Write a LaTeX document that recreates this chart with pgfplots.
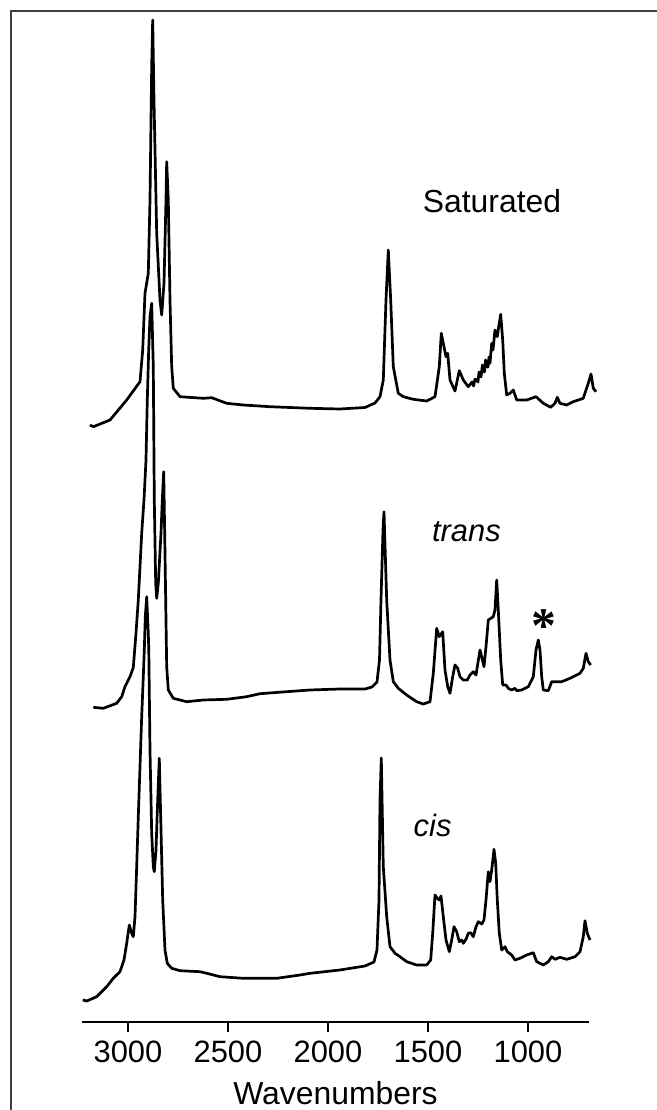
\documentclass[border=0pt]{standalone}
\usepackage{pgfplots}
\pgfplotsset{compat=1.18}
\usepackage{fontspec}
\setmainfont{Liberation Sans}
\newfontfamily\starfont{Liberation Serif}
\tikzset{spec/.style={black, line width=2.7bp, line join=round, no markers}}
\begin{document}
\begin{tikzpicture}
\path[use as bounding box] (-82bp,-88bp) rectangle (575bp,1022bp);
\begin{axis}[
  at={(0,0)}, anchor=south west,
  scale only axis, width=507bp, height=1011bp,
  xmin=695, xmax=3230, x dir=reverse,
  ymin=0, ymax=1011,
  axis x line*=bottom, axis y line=none,
  axis line style={-, line width=2.6bp},
  xtick={3000,2500,2000,1500,1000},
  tick align=outside, major tick length=10bp,
  tick style={line width=2.2bp, black},
  /pgf/number format/assume math mode=true,
  /pgf/number format/1000 sep={},
  xticklabel style={font=\fontsize{31}{34}\selectfont, anchor=base, yshift=-30bp},
  xlabel={Wavenumbers},
  xlabel style={at={(axis description cs:0.5,0)}, anchor=base, yshift=-82bp, font=\fontsize{32}{36}\selectfont},
  clip=false,
]
% Saturated
\addplot[spec] coordinates {
(3190,597) (3173.5,595.3) (3090,602) (3006.5,622) (2940,640.3) (2926.5,672) (2915,728.7) (2898.5,748.7) (2890,822) (2881.5,955.3) (2876.5,1002) (2870,922) (2856.5,788.7) (2840,722) (2831.5,707) (2820,738.7) (2810,822) (2806.5,860.3) (2798.5,822) (2790,722) (2781.5,655.3) (2773.5,633.7) (2740,625.3) (2623.5,623.7) (2581.5,624.3) (2506.5,618.7) (2423.5,617) (2290,615.3) (2090,613.7) (1940,613) (1815,614.5) (1765,619) (1740,625.3) (1723.5,642) (1710,722) (1698.5,772) (1686.5,722) (1673.5,655.3) (1648.5,628.7) (1623.5,625.3) (1573.5,622.7) (1506.5,621) (1465,625.3) (1443.5,655.3) (1433.5,688.7) (1420,675.3) (1410,665.3) (1401.5,668.7) (1390,642) (1365,631) (1343.5,651.3) (1323.5,642) (1298.5,635.3) (1280,640) (1272,636) (1265,643) (1256.5,642) (1250,640) (1245,650) (1240,648.7) (1235,645) (1228,657) (1223.5,652) (1218,650) (1212,662) (1206.5,655.3) (1200,655) (1195,665) (1190,658.7) (1181.5,678.7) (1175,672) (1165,692) (1153.5,685.3) (1146.5,695.3) (1136.5,707.7) (1126.5,682) (1118.5,648.7) (1106.5,627) (1090,628.7) (1073.5,632) (1056.5,622) (1006.5,622) (960,625.3) (923.5,618.7) (886.5,614.7) (865,618.7) (853.5,624.7) (840,618.7) (806.5,617) (773.5,620.3) (723.5,623.7) (698.5,638.7) (685,648) (673.5,633.7) (660,630.3)
};
% trans
\addplot[spec] coordinates {
(3173.5,314.7) (3123.5,313.7) (3056.5,318.7) (3031.5,325.3) (3015,335.3) (2990,345.3) (2973.5,354.5) (2960,388.7) (2948.5,422) (2940,455.3) (2931.5,488.7) (2920,522) (2910,562) (2903.5,622) (2896.5,672) (2890,705.3) (2881.5,718.7) (2873.5,655.3) (2868.5,522) (2861.5,438.7) (2856.5,423.7) (2848.5,438.7) (2835,488.7) (2828.5,522) (2821.5,550.3) (2816.5,488.7) (2811.5,422) (2806.5,355.3) (2798.5,332) (2773.5,323.7) (2706.5,320.3) (2623.5,322) (2506.5,322.7) (2406.5,325.3) (2340,328.3) (2206.5,330.3) (2090,332) (1940,333) (1815,333) (1780,335) (1755,340) (1742.5,362) (1735,422) (1725,492) (1720,510.3) (1706.5,422) (1690,362) (1673.5,340.3) (1648.5,333.7) (1606.5,327) (1556.5,320.3) (1523.5,318) (1490,320.3) (1473.5,348.7) (1456.5,393.7) (1443.5,385.3) (1426.5,390.3) (1415,352) (1401.5,335.3) (1390,328.7) (1376.5,345.3) (1365,357) (1351.5,353.7) (1340,345.3) (1323.5,342) (1303.5,342) (1290,347) (1273.5,350.3) (1260,347) (1240,372) (1231.5,365.3) (1220,355.3) (1210,375.3) (1198.5,402) (1173.5,405.3) (1165,412) (1156.5,442) (1148.5,412) (1136.5,362) (1126.5,337) (1110,337) (1098.5,333.7) (1081.5,332) (1065,333.7) (1056.5,331.3) (1031.5,332) (998.5,335.3) (973.5,345.3) (960,372) (948.5,382) (940,372) (931.5,345.3) (923.5,332) (898.5,331.3) (881.5,340.3) (865,340.3) (831.5,340.3) (790,343.7) (756.5,347) (740,348.7) (723.5,353.7) (710,368.7) (698.5,360.3) (686.5,357)
};
% cis
\addplot[spec] coordinates {
(3226.5,22) (3206.5,21) (3156.5,25.3) (3106.5,35.3) (3073.5,43.7) (3040,50.3) (3020,62) (3006.5,78.7) (2993.5,97) (2981.5,88.7) (2973.5,85.3) (2965,105.3) (2956.5,155.3) (2948.5,205.3) (2940,255.3) (2931.5,305.3) (2923.5,345.3) (2918.5,372) (2913.5,405.3) (2906.5,425.3) (2898.5,388.7) (2896,372) (2890,272) (2881.5,188.7) (2873.5,155.3) (2868.5,150.3) (2860,172) (2851.5,222) (2843.5,263.7) (2836.5,205.3) (2826.5,122) (2815,72) (2803.5,58.7) (2781.5,53.7) (2740,51.3) (2640,50.3) (2606.5,48.7) (2540,45.3) (2423.5,43.7) (2256.5,43.7) (2140,47) (2090,48.7) (1940,52) (1815,56) (1770,60) (1755,72) (1745,122) (1740,222) (1733.5,264) (1723.5,155.3) (1706.5,105.3) (1690,75.3) (1665,68.7) (1640,65.3) (1606.5,60.3) (1556.5,57) (1506.5,57) (1486.5,62) (1476.5,88.7) (1465,127) (1453.5,123.7) (1443.5,122) (1435,126) (1423.5,105.3) (1410,82) (1393.5,70.3) (1381.5,82) (1370,95.3) (1356.5,90.3) (1343.5,80.3) (1331.5,82) (1323.5,78.7) (1310,82.7) (1298.5,88.7) (1286.5,89.3) (1273.5,85.3) (1260,95.3) (1248.5,100.3) (1231.5,98) (1220,102) (1210,122) (1198.5,150.3) (1190,140.3) (1181.5,152) (1170,172.7) (1161.5,158.7) (1153.5,122) (1143.5,88.7) (1131.5,72) (1115,75.3) (1103.5,70.3) (1081.5,67) (1065,62) (1040,63.7) (1006.5,67) (973.5,69.3) (956.5,60.3) (923.5,57) (898.5,60.3) (881.5,65.3) (865,62.7) (840,64.7) (806.5,62.7) (765,65.3) (740,70.3) (723.5,85.3) (715,101.3) (703.5,88.7) (690,82)
};
\node[font=\fontsize{32}{36}\selectfont, anchor=base] at (axis cs:1180,810) {Saturated};
\node[font=\fontsize{31}{34}\selectfont\itshape, anchor=base] at (axis cs:1308,481) {trans};
\node[font=\fontsize{31}{34}\selectfont\itshape, anchor=base] at (axis cs:1477,186) {cis};
\node[font=\fontsize{50}{52}\selectfont\starfont\bfseries, inner sep=0pt] at (axis cs:921,396) {*};
\end{axis}
\draw[line width=1.3bp, black!75] (-71bp,-88bp) -- (-71bp,1011bp) -- (575bp,1011bp);
\end{tikzpicture}
\end{document}
